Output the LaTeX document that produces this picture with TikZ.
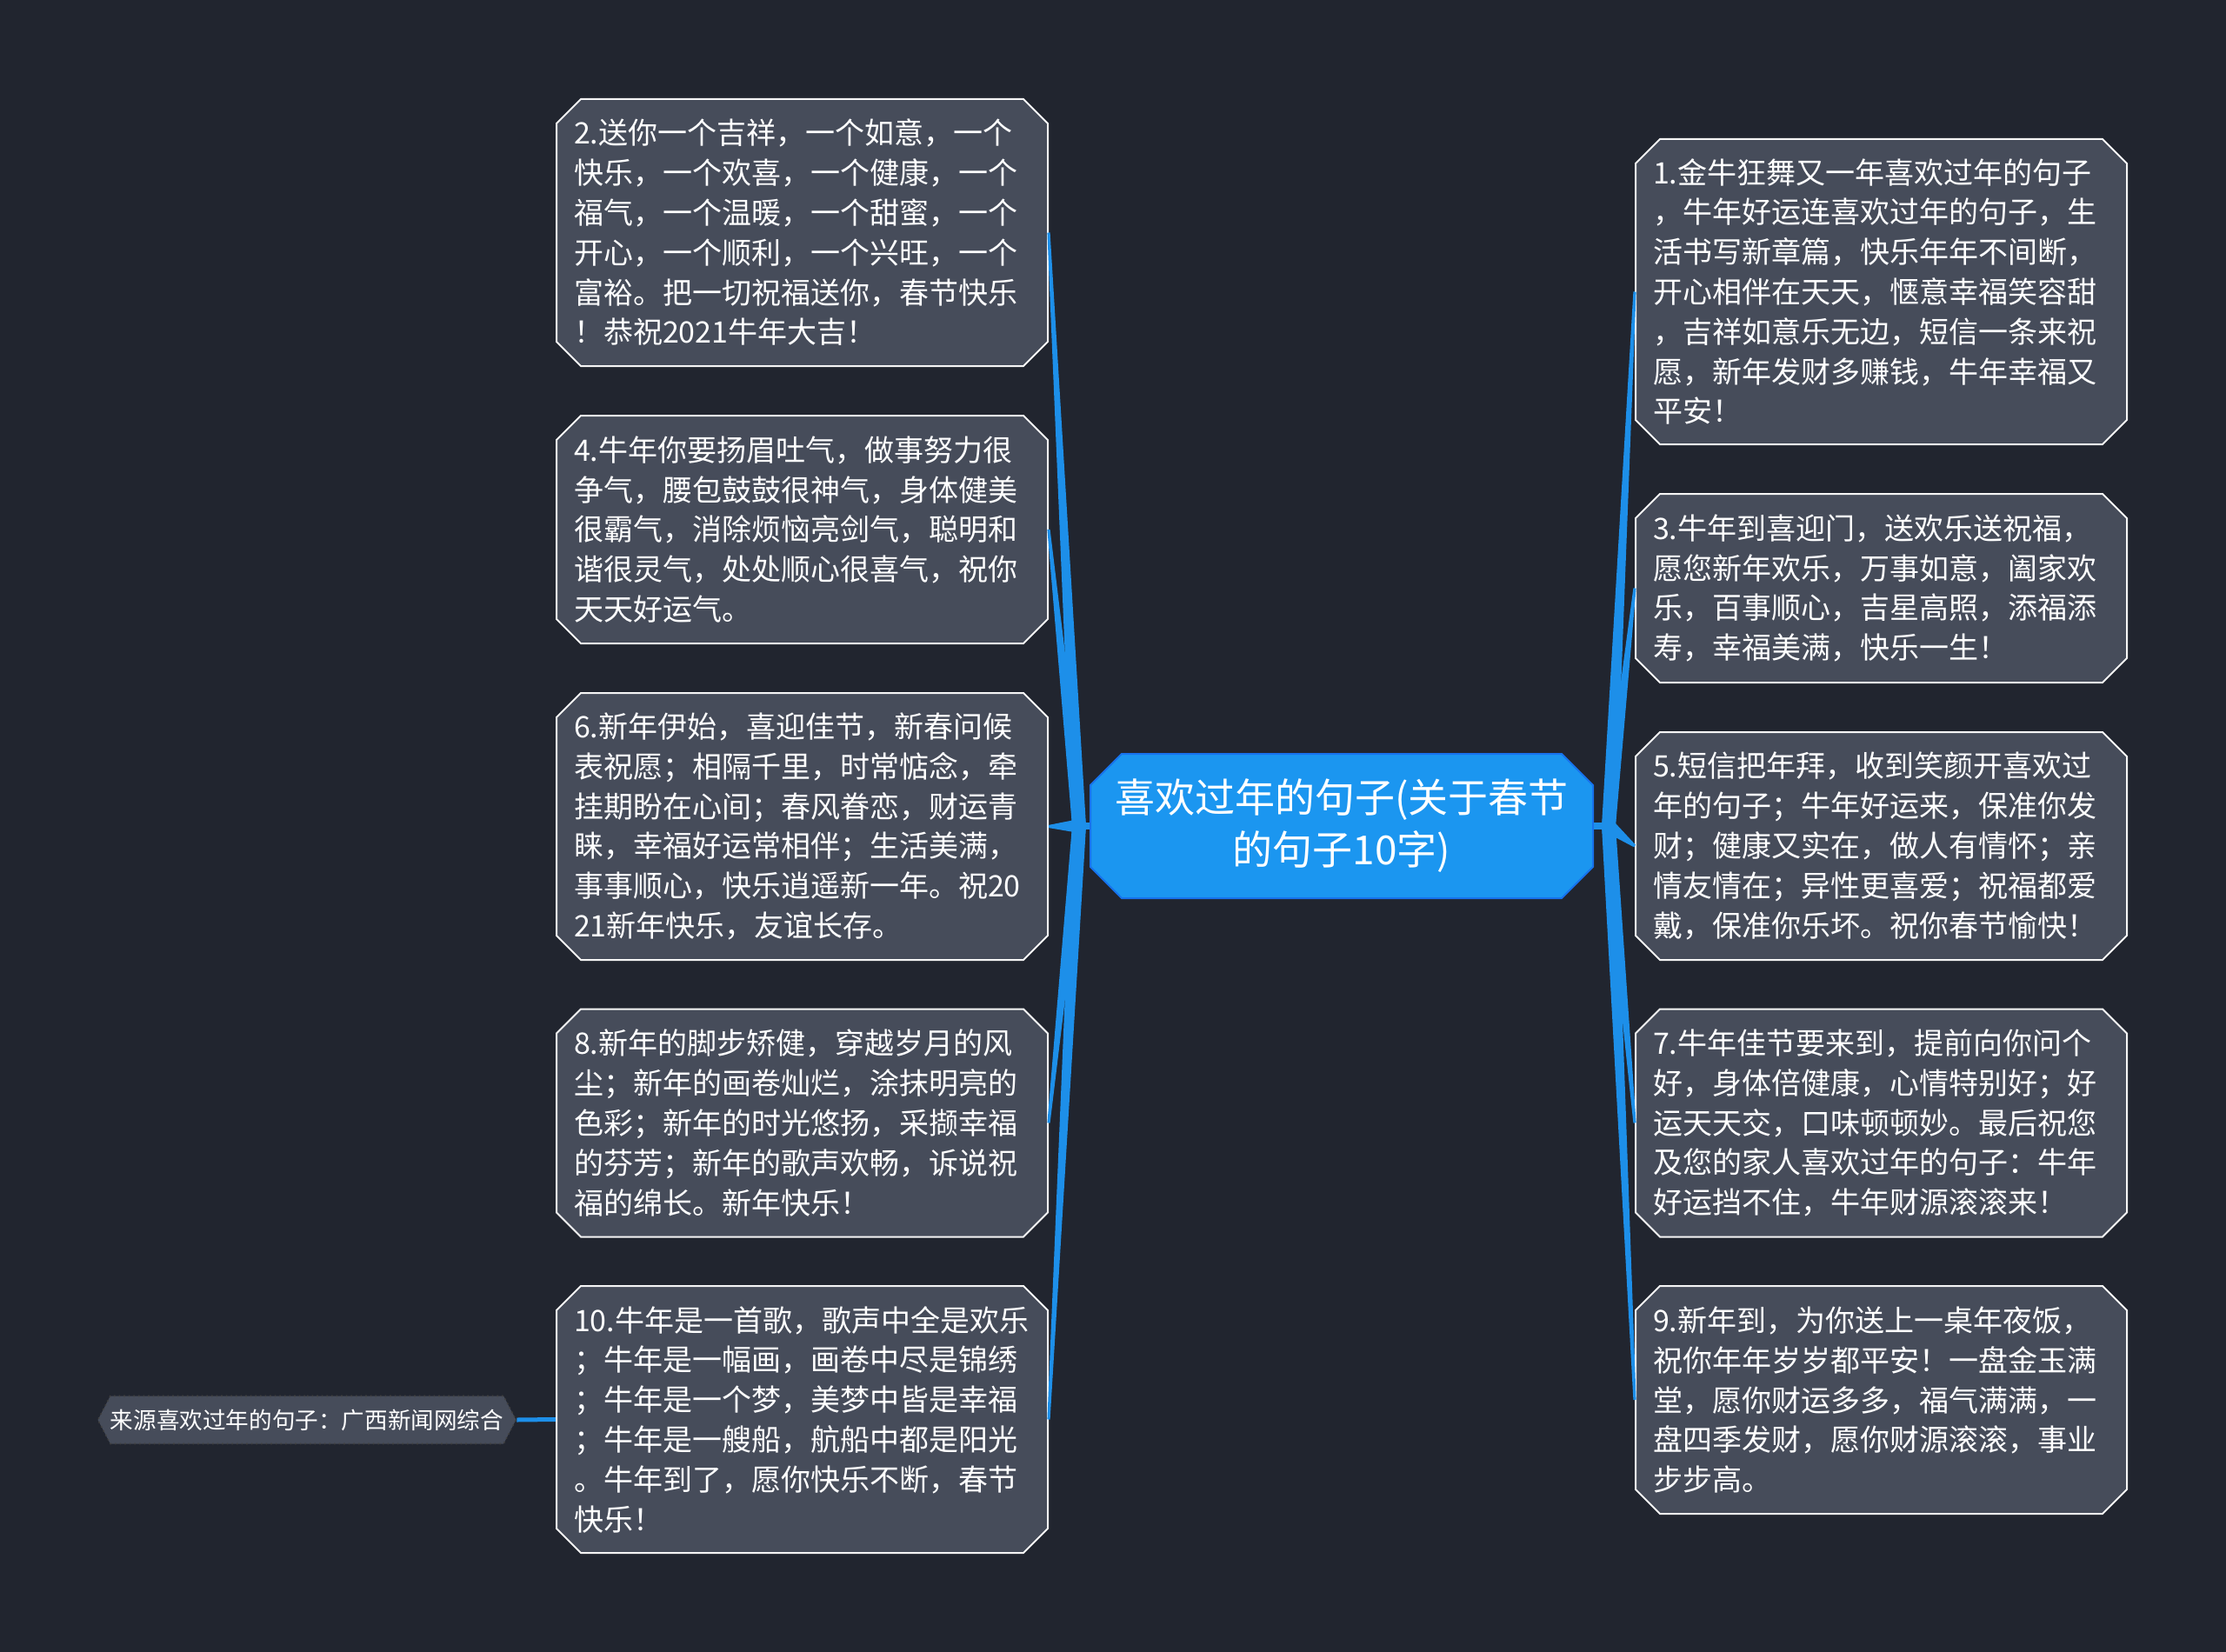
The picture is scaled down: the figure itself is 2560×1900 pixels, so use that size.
\documentclass[tikz,border=0pt]{standalone}
\usepackage{fontspec}
\setmainfont{Noto Sans CJK SC}
\usepackage{tikz}
\usetikzlibrary{shapes.misc,shapes.symbols,calc}
\usepackage{xcolor}
\definecolor{bgcol}{HTML}{21252F}
\definecolor{cardcol}{HTML}{464C5A}
\definecolor{hubblue}{HTML}{1B96F0}
\definecolor{linkblue}{HTML}{1D8FE9}

\begin{document}
\begin{tikzpicture}[x=0.5pt, y=-0.5pt,
        card/.style={chamfered rectangle, chamfered rectangle xsep=7pt, chamfered rectangle ysep=7pt,
            fill=cardcol, draw=white!92!gray, line width=1pt, text=white, inner xsep=3pt, inner ysep=0pt,
            minimum width=282.5pt, text width=262.5pt, align=left,
            font=\fontsize{17pt}{22.9pt}\selectfont},
        topic/.style={chamfered rectangle, chamfered rectangle xsep=9pt, chamfered rectangle ysep=9pt,
            fill=hubblue, draw=linkblue!80!blue, line width=1pt, text=white, align=center,
            minimum width=289pt, minimum height=83pt, font=\fontsize{23pt}{30pt}\selectfont},
        source/.style={signal, signal to=west and east, signal pointer angle=125,
            fill=cardcol, draw=black!75, dotted, line width=0.8pt, text=white,
            minimum width=235pt, minimum height=27.5pt, inner sep=0pt,
            font=\fontsize{13.3pt}{16pt}\selectfont},
        spoke/.style={fill=linkblue},
        stub/.style={draw=linkblue, line width=4pt}]

        % Background
        \fill[bgcol] (0,0) rectangle (2560,1900);
        \useasboundingbox (0,0) rectangle (2560,1900);

        % Central topic
        \node[topic] (ctr) at (1543,950) {喜欢过年的句子(关于春节\\的句子10字)};
        \coordinate (hl) at (1241,950);
        \coordinate (hr) at (1850,950);

        % Left cards
        \node[card, minimum height=153.5pt] (b2) at (922.5,267.5) {2.送你一个吉祥，一个如意，一个\\快乐，一个欢喜，一个健康，一个\\福气，一个温暖，一个甜蜜，一个\\开心，一个顺利，一个兴旺，一个\\富裕。把一切祝福送你，春节快乐\\！恭祝2021牛年大吉！};
        \node[card, minimum height=131pt] (b4) at (922.5,609) {4.牛年你要扬眉吐气，做事努力很\\争气，腰包鼓鼓很神气，身体健美\\很霸气，消除烦恼亮剑气，聪明和\\谐很灵气，处处顺心很喜气，祝你\\天天好运气。};
        \node[card, minimum height=153.5pt] (b6) at (922.5,950.5) {6.新年伊始，喜迎佳节，新春问候\\表祝愿；相隔千里，时常惦念，牵\\挂期盼在心间；春风眷恋，财运青\\睐，幸福好运常相伴；生活美满，\\事事顺心，快乐逍遥新一年。祝20\\21新年快乐，友谊长存。};
        \node[card, minimum height=131pt] (b8) at (922.5,1291.5) {8.新年的脚步矫健，穿越岁月的风\\尘；新年的画卷灿烂，涂抹明亮的\\色彩；新年的时光悠扬，采撷幸福\\的芬芳；新年的歌声欢畅，诉说祝\\福的绵长。新年快乐！};
        \node[card, minimum height=153.5pt] (b10) at (922.5,1632.5) {10.牛年是一首歌，歌声中全是欢乐\\；牛年是一幅画，画卷中尽是锦绣\\；牛年是一个梦，美梦中皆是幸福\\；牛年是一艘船，航船中都是阳光\\。牛年到了，愿你快乐不断，春节\\快乐！};

        % Right cards
        \node[card, minimum height=175.5pt] (b1) at (2163.5,335.5) {1.金牛狂舞又一年喜欢过年的句子\\，牛年好运连喜欢过年的句子，生\\活书写新章篇，快乐年年不间断，\\开心相伴在天天，惬意幸福笑容甜\\，吉祥如意乐无边，短信一条来祝\\愿，新年发财多赚钱，牛年幸福又\\平安！};
        \node[card, minimum height=108.5pt] (b3) at (2163.5,676.5) {3.牛年到喜迎门，送欢乐送祝福，\\愿您新年欢乐，万事如意，阖家欢\\乐，百事顺心，吉星高照，添福添\\寿，幸福美满，快乐一生！};
        \node[card, minimum height=131pt] (b5) at (2163.5,973) {5.短信把年拜，收到笑颜开喜欢过\\年的句子；牛年好运来，保准你发\\财；健康又实在，做人有情怀；亲\\情友情在；异性更喜爱；祝福都爱\\戴，保准你乐坏。祝你春节愉快！};
        \node[card, minimum height=131pt] (b7) at (2163.5,1291.5) {7.牛年佳节要来到，提前向你问个\\好，身体倍健康，心情特别好；好\\运天天交，口味顿顿妙。最后祝您\\及您的家人喜欢过年的句子：牛年\\好运挡不住，牛年财源滚滚来！};
        \node[card, minimum height=131pt] (b9) at (2163.5,1610) {9.新年到，为你送上一桌年夜饭，\\祝你年年岁岁都平安！一盘金玉满\\堂，愿你财运多多，福气满满，一\\盘四季发财，愿你财源滚滚，事业\\步步高。};

        % Source note
        \node[source] (src) at (353,1633) {来源喜欢过年的句子：广西新闻网综合};

        % Connectors
        \draw[stub] (ctr.west) -- ([xshift=-1pt]hl);
        \draw[stub] (ctr.east) -- ([xshift=1pt]hr);
        \foreach \b in {b2,b4,b6,b8,b10} {
            \fill[spoke] ($(\b.east)!0.8pt!90:(hl)$) -- ($(hl)!4pt!-90:(\b.east)$) -- ($(hl)!4pt!90:(\b.east)$) -- ($(\b.east)!0.8pt!-90:(hl)$) -- cycle;
        }
        \foreach \b in {b1,b3,b5,b7,b9} {
            \fill[spoke] ($(\b.west)!0.8pt!90:(hr)$) -- ($(hr)!4pt!-90:(\b.west)$) -- ($(hr)!4pt!90:(\b.west)$) -- ($(\b.west)!0.8pt!-90:(hr)$) -- cycle;
        }
        \draw[stub, line width=2.5pt] (src.east) -- (b10.west);
    \end{tikzpicture}
\end{document}
